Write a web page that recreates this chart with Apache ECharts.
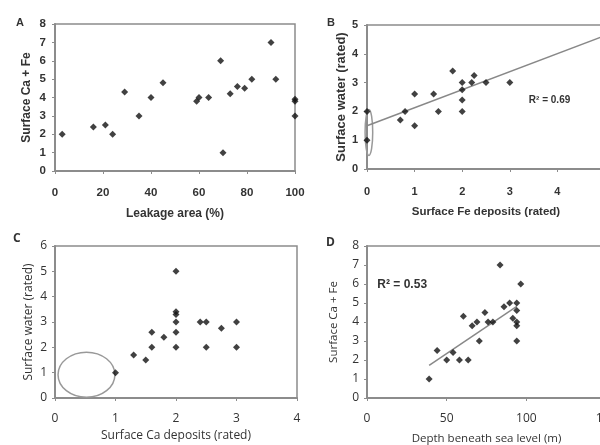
<!DOCTYPE html>
<html><head><meta charset="utf-8">
<script src="https://cdn.jsdelivr.net/npm/echarts@6/dist/echarts.min.js"></script>
<style>html,body{margin:0;padding:0;background:#fff}#c{width:600px;height:445px}</style>
</head><body><div id="c"></div>
<script>
// Panel A: Leakage area (%) vs Surface Ca + Fe
const dataA = [[3,2],[16,2.4],[21,2.5],[24,2],[29,4.3],[35,3],[40,4],[45,4.8],[59,3.8],[60,4],[64,4],[69,6],[70,1],[73,4.2],[76,4.6],[79,4.5],[82,5],[90,7],[92,5],[100,3.9],[100,3.8],[100,3]];
// Panel B: Surface Fe deposits vs Surface water
const dataB = [[0,2],[0,1],[0.7,1.7],[0.8,2],[1,2.6],[1,1.5],[1.4,2.6],[1.5,2],[1.8,3.4],[2,3],[2,2.75],[2,2.4],[2,2],[2.2,3],[2.25,3.25],[2.5,3],[3,3]];
const trendB = [[0,1.5],[5,4.63]];
// Panel C: Surface Ca deposits vs Surface water
const dataC = [[1,1],[1.3,1.7],[1.5,1.5],[1.6,2.6],[1.6,2],[1.8,2.4],[2,5],[2,3.4],[2,3.3],[2,3],[2,2.6],[2,2],[2.4,3],[2.5,3],[2.5,2],[2.75,2.75],[3,3],[3,2]];
// Panel D: Depth beneath sea level vs Surface Ca + Fe
const dataD = [[39,1],[44,2.5],[50,2],[54,2.4],[58,2],[60.5,4.3],[63.5,2],[66,3.8],[69,4],[70.5,3],[74,4.5],[76,4],[79,4],[83.5,7],[86,4.8],[89.5,5],[91.5,4.2],[94,5],[94,4.6],[94,4],[94,3.8],[94,3],[96.5,6]];
const trendD = [[39,1.72],[94,4.82]];
const labelsR2 = {B: 'R² = 0.69', D: 'R² = 0.53'};

const axisGray = '#8c8c8c';
function font(bold) { return bold ? 'Liberation Sans' : 'Open Sans'; }
function xAx(gi, min, max, interval, name, gap, bold, nfs, lfs, margin) {
  return {gridIndex: gi, type: 'value', min, max, interval, name, nameLocation: 'middle', nameGap: gap,
    nameTextStyle: {fontFamily: font(bold), fontWeight: bold ? 'bold' : 'normal', fontSize: nfs, color: '#333'},
    axisLine: {onZero: false, lineStyle: {color: axisGray, width: 2}},
    axisTick: {show: true, length: 3, lineStyle: {color: axisGray}},
    axisLabel: {margin: margin, fontFamily: font(bold), fontWeight: bold ? 'bold' : 'normal', fontSize: lfs, color: '#333',
      showMaxLabel: true},
    splitLine: {show: false}};
}
function yAx(gi, min, max, interval, name, gap, bold, nfs, lfs, margin) {
  return {gridIndex: gi, type: 'value', min, max, interval, name, nameLocation: 'middle', nameGap: gap,
    nameTextStyle: {fontFamily: font(bold), fontWeight: bold ? 'bold' : 'normal', fontSize: nfs, color: '#333'},
    axisLine: {onZero: false, lineStyle: {color: axisGray, width: 2}},
    axisTick: {show: true, length: 3, lineStyle: {color: axisGray}},
    axisLabel: {margin: margin, fontFamily: font(bold), fontWeight: bold ? 'bold' : 'normal', fontSize: lfs, color: '#333'},
    splitLine: {show: false}};
}
const scat = (i, d) => ({type: 'scatter', xAxisIndex: i, yAxisIndex: i, data: d, symbol: 'diamond', symbolSize: 7,
  itemStyle: {color: '#111'}, silent: true, z: 3});
const line = (i, d) => ({type: 'line', xAxisIndex: i, yAxisIndex: i, data: d, symbol: 'none',
  lineStyle: {color: '#888', width: 1.5}, silent: true, z: 2});

const gridStyle = {show: true, borderColor: axisGray, borderWidth: 1.5, backgroundColor: 'transparent',
  outerBoundsMode: 'none', containLabel: false};
const chart = echarts.init(document.getElementById('c'), null, {renderer: 'canvas'});
chart.setOption({
  animation: false,
  backgroundColor: '#fff',
  grid: [
    Object.assign({left: 55, top: 24, width: 240, height: 147}, gridStyle),
    Object.assign({left: 367, top: 25, width: 238, height: 144}, gridStyle),
    Object.assign({left: 55, top: 246, width: 242, height: 152}, gridStyle),
    Object.assign({left: 367, top: 246, width: 239, height: 152}, gridStyle)
  ],
  xAxis: [
    xAx(0, 0, 100, 20, 'Leakage area (%)', 37, true, 12, 11.5, 16),
    xAx(1, 0, 5, 1, 'Surface Fe deposits (rated)', 37, true, 11.5, 11, 17),
    xAx(2, 0, 4, 1, 'Surface Ca deposits (rated)', 32, false, 12, 12, 15),
    xAx(3, 0, 150, 50, 'Depth beneath sea level (m)', 35, false, 11.5, 12, 15)
  ],
  yAxis: [
    yAx(0, 0, 8, 1, 'Surface Ca + Fe', 22, true, 12, 11.5, 9),
    yAx(1, 0, 5, 1, 'Surface water (rated)', 19, true, 13, 11, 9),
    yAx(2, 0, 6, 1, 'Surface water (rated)', 20, false, 12, 12, 8),
    yAx(3, 0, 8, 1, 'Surface Ca + Fe', 27, false, 11.5, 12, 8)
  ],
  series: [scat(0, dataA), line(1, trendB), scat(1, dataB), scat(2, dataC), line(3, trendD), scat(3, dataD)]
});

function px(i, p) { return chart.convertToPixel({gridIndex: i}, p); }
function ellipse(i, cx, cy, rx, ry) {
  const c = px(i, [cx, cy]);
  const e = px(i, [cx + rx, cy + ry]);
  return {type: 'ellipse', shape: {cx: c[0], cy: c[1], rx: Math.abs(e[0] - c[0]), ry: Math.abs(c[1] - e[1])},
    style: {fill: 'none', stroke: '#999', lineWidth: 1.5}, z: 1};
}
function txt(i, x, y, s, f) {
  const p = px(i, [x, y]);
  return {type: 'text', x: p[0], y: p[1], style: {text: s, font: f, fill: '#333', verticalAlign: 'middle'}, z: 5};
}
chart.setOption({graphic: [
  ellipse(1, 0.04, 1.27, 0.08, 0.8),
  ellipse(2, 0.52, 0.92, 0.47, 0.89),
  txt(1, 3.4, 2.4, labelsR2.B, 'bold 10px "Liberation Sans"'),
  txt(3, 6.5, 5.95, labelsR2.D, 'bold 12px "Liberation Sans"'),
  {type: 'text', x: 16, y: 17, style: {text: 'A', font: 'bold 11px "Liberation Sans"', fill: '#333'}},
  {type: 'text', x: 327, y: 17, style: {text: 'B', font: 'bold 11px "Liberation Sans"', fill: '#333'}},
  {type: 'text', x: 13, y: 233, style: {text: 'C', font: 'bold 12px "Open Sans"', fill: '#333'}},
  {type: 'text', x: 326, y: 237, style: {text: 'D', font: 'bold 12px "Open Sans"', fill: '#333'}}
]});
</script></body></html>
